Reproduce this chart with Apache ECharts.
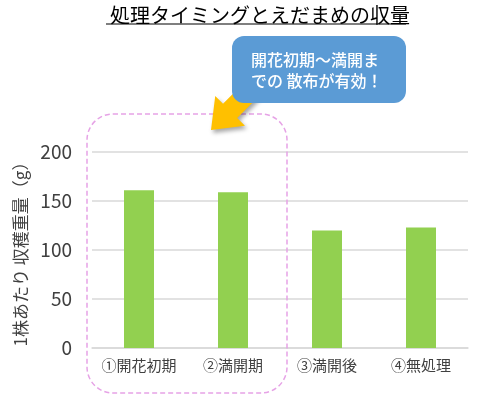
<!DOCTYPE html>
<html><head><meta charset="utf-8">
<script src="https://cdn.jsdelivr.net/npm/echarts@6/dist/echarts.min.js"></script>
<style>html,body{margin:0;padding:0;background:#fff;}#c{width:477px;height:398px;}</style>
</head><body><div id="c"></div>
<script>
const categories = ['①開花初期', '②満開期', '③満開後', '④無処理'];
const yieldValues = [161, 159, 120, 123];
const yTicks = [0, 50, 100, 150, 200];
const titleText = '処理タイミングとえだまめの収量';
const yAxisName = '1株あたり 収穫重量（g）';
const calloutLines = ['開花初期～満開ま', 'での 散布が有効！'];

const FONT = '"Noto Sans CJK JP", "Noto Sans", sans-serif';
const chart = echarts.init(document.getElementById('c'), null, {renderer: 'canvas'});

// arrow geometry (tip, pointing down-left)
const tip = [211, 130];
const d = [1 / Math.SQRT2, -1 / Math.SQRT2]; // back along shaft
const n = [1 / Math.SQRT2, 1 / Math.SQRT2];  // perpendicular
const headLen = 27, headHalf = 21, shaftHalf = 10, shaftLen = 40;
const base = [tip[0] + d[0] * headLen, tip[1] + d[1] * headLen];
const end = [base[0] + d[0] * shaftLen, base[1] + d[1] * shaftLen];
const arrowPts = [
  tip,
  [base[0] + n[0] * headHalf, base[1] + n[1] * headHalf],
  [base[0] + n[0] * shaftHalf, base[1] + n[1] * shaftHalf],
  [end[0] + n[0] * shaftHalf, end[1] + n[1] * shaftHalf],
  [end[0] - n[0] * shaftHalf, end[1] - n[1] * shaftHalf],
  [base[0] - n[0] * shaftHalf, base[1] - n[1] * shaftHalf],
  [base[0] - n[0] * headHalf, base[1] - n[1] * headHalf]
];

chart.setOption({
  animation: false,
  title: {
    text: titleText,
    left: 105,
    top: 0,
    textStyle: {fontFamily: FONT, fontSize: 20, fontWeight: 'normal', color: '#000'}
  },
  grid: {left: 92, right: 9, top: 152, bottom: 50},
  xAxis: {
    type: 'category',
    data: categories,
    axisLine: {lineStyle: {color: '#D9D9D9', width: 1.5}},
    axisTick: {show: false},
    axisLabel: {interval: 0, fontFamily: FONT, fontSize: 15, color: '#404040', margin: 10}
  },
  yAxis: {
    type: 'value',
    min: yTicks[0],
    max: yTicks[yTicks.length - 1],
    interval: 50,
    name: yAxisName,
    nameLocation: 'middle',
    nameGap: 60,
    nameRotate: 90,
    nameTextStyle: {fontFamily: FONT, fontSize: 17, color: '#404040'},
    axisLine: {show: false},
    axisTick: {show: false},
    splitLine: {lineStyle: {color: '#D9D9D9', width: 1.5}},
    axisLabel: {fontFamily: FONT, fontSize: 19, color: '#404040', margin: 20}
  },
  series: [{
    type: 'bar',
    data: yieldValues,
    barWidth: 30,
    itemStyle: {color: '#92D050'}
  }],
  graphic: [
    {
      type: 'line', z: 10,
      shape: {x1: 106, y1: 24, x2: 406, y2: 24},
      style: {stroke: '#000', lineWidth: 1.2}
    },
    {
      type: 'rect', z: 5,
      shape: {x: 87, y: 114, width: 200, height: 279, r: 26},
      style: {fill: 'none', stroke: '#E6A3E6', lineWidth: 1.5, lineDash: [5, 3]}
    },
    {
      type: 'polygon', z: 20,
      shape: {points: arrowPts},
      style: {fill: '#FFC000', shadowBlur: 4, shadowColor: 'rgba(0,0,0,0.35)', shadowOffsetX: 2, shadowOffsetY: 3}
    },
    {
      type: 'rect', z: 30,
      shape: {x: 232, y: 36, width: 174, height: 67, r: 12},
      style: {fill: '#5B9BD5'}
    },
    {
      type: 'text', z: 31,
      left: 251, top: 49,
      style: {
        text: calloutLines.join('\n'),
        fill: '#fff',
        font: '500 16px ' + FONT,
        lineHeight: 21
      }
    }
  ]
});
</script></body></html>
